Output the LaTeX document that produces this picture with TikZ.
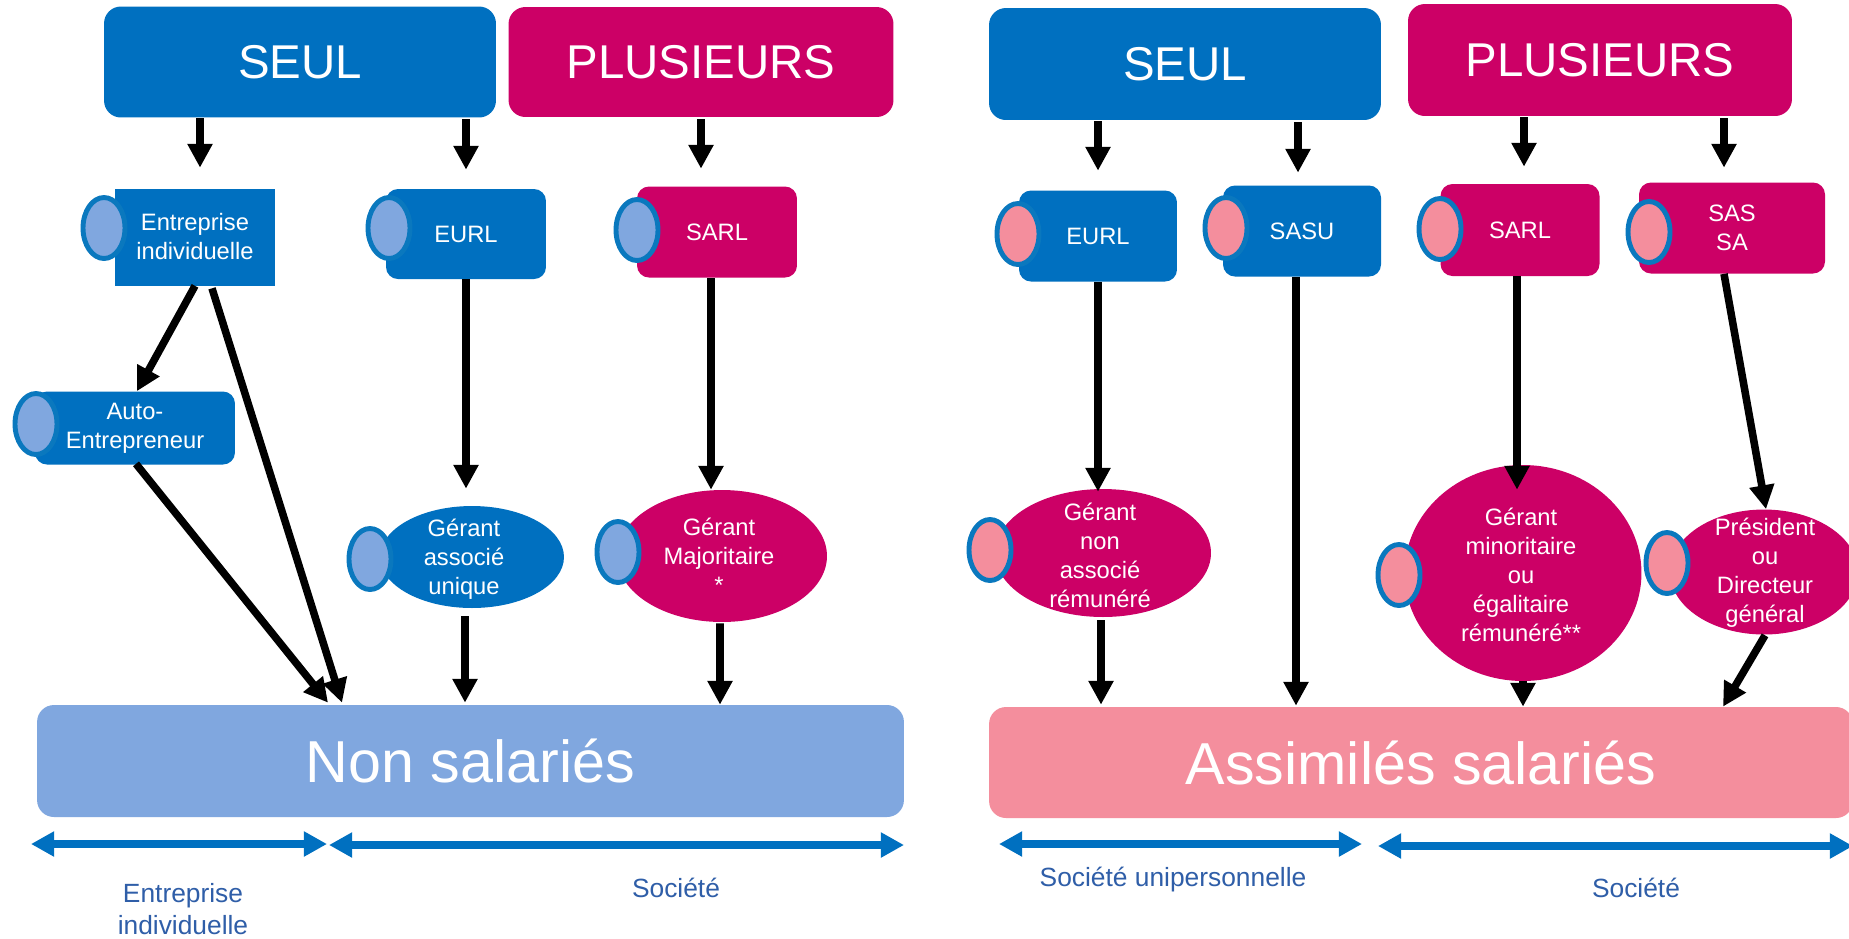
\documentclass[tikz,border=0pt]{standalone}
\usepackage{fontspec}
\setmainfont{Liberation Sans}
\usetikzlibrary{arrows.meta,shapes.geometric,calc}
\definecolor{cblue}{HTML}{0070C0}
\definecolor{cmag}{HTML}{CC0066}
\definecolor{clblue}{HTML}{80A7DF}
\definecolor{cpink}{HTML}{F48E9D}
\definecolor{ctext}{HTML}{2F5EA8}
\definecolor{cring}{HTML}{0A78BE}
\begin{document}
\begin{tikzpicture}[x=0.02cm,y=-0.02cm,
  bigbox/.style={rectangle, rounded corners=9.6pt, text=white, inner sep=0pt,
    font=\fontsize{27}{32}\selectfont},
  midbox/.style={rectangle, rounded corners=6.8pt, text=white, inner sep=0pt, align=center,
    font=\fontsize{13.5}{16.5}\selectfont},
  sqbox/.style={midbox, rounded corners=0pt},
  dotL/.style={ellipse, draw=cring, line width=2.8pt, fill=clblue, minimum width=0.84cm, minimum height=1.22cm, inner sep=0pt},
  dotR/.style={dotL, fill=cpink},
  bigell/.style={ellipse, inner sep=0pt},
  etext/.style={text=white, align=center, inner sep=0pt, font=\fontsize{13.5}{16.5}\selectfont},
  basebox/.style={rectangle, rounded corners=9.6pt, text=white, inner sep=0pt,
    font=\fontsize{33.7}{40}\selectfont},
  arr/.style={draw=black, line width=4.3pt, -{Triangle[width=13.6pt,length=13.6pt]}},
  darr/.style={draw=cblue, line width=4.6pt, {Triangle[width=13.6pt,length=13.2pt]}-{Triangle[width=13.6pt,length=13.2pt]}},
  lbl/.style={text=ctext, align=center, inner sep=0pt, font=\fontsize{15}{18}\selectfont}
]
\useasboundingbox (0,0) rectangle (1849,938);
\fill[white] (0,0) rectangle (1849,938);

% top boxes
\node[bigbox, fill=cblue, minimum width=7.84cm, minimum height=2.22cm] (seulL) at (300,62) {SEUL};
\node[bigbox, fill=cmag, minimum width=7.70cm, minimum height=2.20cm] (plusL) at (701,62) {PLUSIEURS};
\node[bigbox, fill=cblue, minimum width=7.84cm, minimum height=2.24cm] (seulR) at (1185,64) {SEUL};
\node[bigbox, fill=cmag, minimum width=7.68cm, minimum height=2.24cm] (plusR) at (1600,60) {PLUSIEURS};

% middle boxes
\node[sqbox, fill=cblue, minimum width=3.20cm, minimum height=1.94cm] (eiL) at (195,237) {Entreprise\\individuelle};
\node[midbox, fill=cblue, minimum width=3.20cm, minimum height=1.80cm] (eurlL) at (466,234) {EURL};
\node[midbox, fill=cmag, minimum width=3.20cm, minimum height=1.82cm] (sarlL) at (717,232) {SARL};
\node[midbox, fill=cblue, minimum width=4.00cm, minimum height=1.46cm] (auto) at (135,428) {Auto-\\Entrepreneur};
\node[midbox, fill=cblue, minimum width=3.16cm, minimum height=1.82cm] (eurlR) at (1098,236) {EURL};
\node[midbox, fill=cblue, minimum width=3.16cm, minimum height=1.82cm] (sasu) at (1302,231) {SASU};
\node[midbox, fill=cmag, minimum width=3.18cm, minimum height=1.84cm] (sarlR) at (1520,230) {SARL};
\node[midbox, fill=cmag, minimum width=3.72cm, minimum height=1.82cm] (sas) at (1732,228) {SAS\\SA};

% big ellipses
\node[bigell, fill=cblue, minimum width=3.68cm, minimum height=2.04cm] (gau) at (472,557) {};
\node[bigell, fill=cmag, minimum width=4.20cm, minimum height=2.64cm] (gmaj) at (722,556) {};
\node[bigell, fill=cmag, minimum width=4.32cm, minimum height=2.56cm] (gna) at (1103,553) {};
\node[bigell, fill=cmag, minimum width=4.74cm, minimum height=4.32cm] (gmin) at (1523,573) {};
\node[bigell, fill=cmag, minimum width=3.76cm, minimum height=2.50cm] (pres) at (1764,572) {};

\node[etext] (gauT) at (464,559) {Gérant\\associé\\unique};
\node[etext] (gmajT) at (719,556) {Gérant\\Majoritaire\\*};
\node[etext] (gnaT) at (1100,555) {Gérant\\non\\associé\\rémunéré};
\node[etext] (gminT) at (1521,575) {Gérant\\minoritaire\\ou\\égalitaire\\rémunéré**};
\node[etext] (presT) at (1765,573) {Président\\ou\\Directeur\\général};

% dots
\node[dotL] (d1) at (104,228) {};
\node[dotL] (d2) at (389,228) {};
\node[dotL] (d3) at (637,230) {};
\node[dotL] (d4) at (36,424) {};
\node[dotL] (d5) at (370,559) {};
\node[dotL] (d6) at (618,552) {};
\node[dotR] (d7) at (1018,234) {};
\node[dotR] (d8) at (1226,228) {};
\node[dotR] (d9) at (1440,229) {};
\node[dotR] (d10) at (1649,232) {};
\node[dotR] (d11) at (990,550) {};
\node[dotR] (d12) at (1399,575) {};
\node[dotR] (d13) at (1667,563) {};

% bottom boxes
\node[basebox, fill=clblue, minimum width=17.34cm, minimum height=2.24cm] (nonsal) at (470.5,761) {Non salariés};
\node[basebox, fill=cpink, minimum width=17.28cm, minimum height=2.22cm] (assim) at (1421,762.5) {Assimilés salariés};

% arrows
\draw[arr] ($(seulL.south)+(-100,0.5)$) -- ($(eiL.north)+(5,-20.5)$);
\draw[arr] ($(seulL.south)+(166,1.5)$) -- ($(eurlL.north)+(0,-19)$);
\draw[arr] ($(plusL.south)+(0,2)$) -- ($(sarlL.north)+(-16,-17.5)$);
\draw[arr] ($(seulR.south)+(-87,1)$) -- ($(eurlR.north)+(0,-19.5)$);
\draw[arr] ($(seulR.south)+(113,2)$) -- ($(sasu.north)+(-4,-12.5)$);
\draw[arr] ($(plusR.south)+(-76,1)$) -- ($(sarlR.north)+(4,-17)$);
\draw[arr] ($(plusR.south)+(124,2)$) -- ($(sas.north)+(-8,-14.5)$);

\draw[arr] (eiL.south) -- ($(auto.north)+(2,0)$);
\draw[arr] ($(eiL.south)+(17,2.5)$) -- ($(nonsal.north)+(-128.5,-2)$);
\draw[arr] ($(auto.south)+(1,-1)$) -- ($(nonsal.north)+(-142.5,-2)$);
\draw[arr] (eurlL.south) -- ($(gau.north)+(-6,-17)$);
\draw[arr] ($(gau.south)+(-7,8)$) -- ($(nonsal.north)+(-5.5,-2)$);
\draw[arr] ($(sarlL.south)+(-6,0.5)$) -- ($(gmaj.north)+(-11,0)$);
\draw[arr] ($(gmaj.south)+(-2,1)$) -- ($(nonsal.north)+(249.5,0)$);

\draw[arr] (eurlR.south) -- ($(gna.north)+(-5,3)$);
\draw[arr] ($(gna.south)+(-2,3)$) -- ($(assim.north)+(-320,-2)$);
\draw[arr] ($(sasu.south)+(-6,0)$) -- ($(assim.north)+(-125,-1)$);
\draw[arr] ($(sarlR.south)+(-3,0)$) -- ($(gmin.north)+(-6,25)$);
\draw[arr] (gmin.south) -- ($(assim.north)+(102,0)$);
\draw[arr] ($(sas.south)+(-8,0)$) -- ($(pres.north)+(2,0)$);
\draw[arr] ($(pres.south)+(1,0.5)$) -- ($(assim.north)+(302,0)$);

% double arrows
\coordinate (a1) at (31,844);
\coordinate (a2) at (327,844);
\coordinate (a3) at (329,845);
\coordinate (a4) at (904,845);
\coordinate (a5) at (999,844);
\coordinate (a6) at (1362,844);
\coordinate (a7) at (1378,846);
\coordinate (a8) at (1853,846);
\draw[darr] (a1) -- (a2);
\draw[darr] (a3) -- (a4);
\draw[darr] (a5) -- (a6);
\draw[darr] (a7) -- (a8);

% labels
\node[lbl] (lab1) at (183,909) {Entreprise\\individuelle};
\node[lbl] (lab2) at (676,888) {Société};
\node[lbl] (lab3) at (1173,880) {Société unipersonnelle};
\node[lbl] (lab4) at (1636,888) {Société};
\end{tikzpicture}
\end{document}
